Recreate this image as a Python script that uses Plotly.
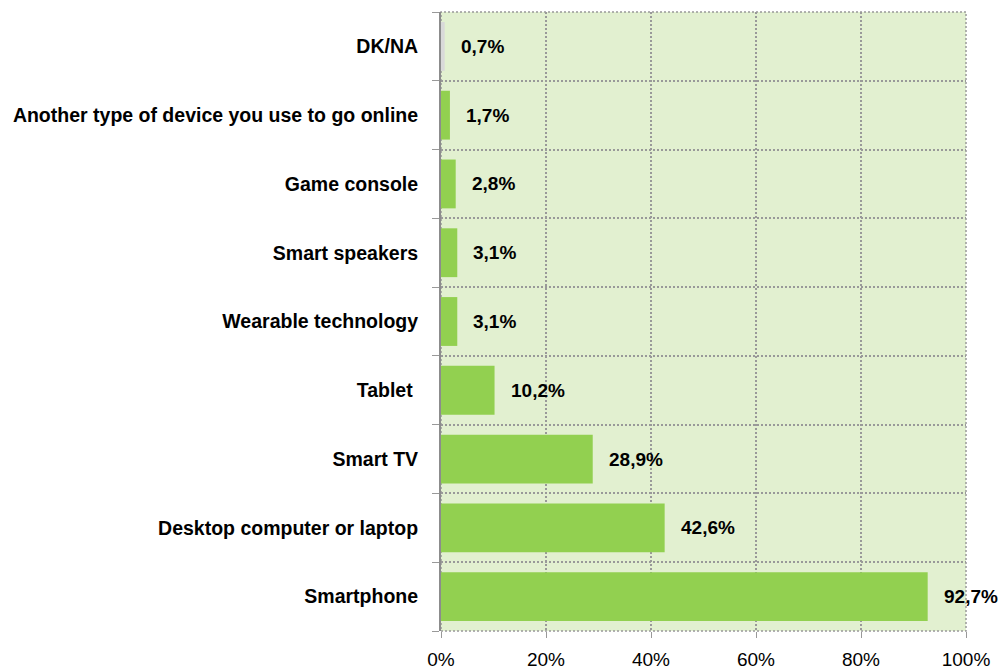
import plotly.graph_objects as go

categories = ["Smartphone", "Desktop computer or laptop", "Smart TV", "Tablet ",
              "Wearable technology", "Smart speakers", "Game console",
              "Another type of device you use to go online", "DK/NA"]
values = [92.7, 42.6, 28.9, 10.2, 3.1, 3.1, 2.8, 1.7, 0.7]
labels = ["92,7%", "42,6%", "28,9%", "10,2%", "3,1%", "3,1%", "2,8%", "1,7%", "0,7%"]
bar_colors = ["#92D050"] * 8 + ["#D9D9D9"]
x_tickvals = [0, 20, 40, 60, 80, 100]
x_ticktext = ["0%", "20%", "40%", "60%", "80%", "100%"]

FONT = "Liberation Sans Narrow, Arial Narrow, Liberation Sans, Arial, sans-serif"
GRID = "#999999"
DASH = "2px,2px"

fig = go.Figure()
fig.add_trace(go.Bar(
    y=categories, x=values, orientation="h",
    marker=dict(color=bar_colors, line=dict(width=0)),
    width=0.71, hoverinfo="skip",
))
for c, v, t in zip(categories, values, labels):
    fig.add_annotation(x=v, y=c, text="<b>%s</b>" % t, showarrow=False,
                       xanchor="left", xshift=14,
                       font=dict(family=FONT, size=19, color="black"))

fig.update_layout(
    width=1000, height=670,
    margin=dict(l=441, r=34, t=12, b=39),
    paper_bgcolor="white", plot_bgcolor="#E2F0D0",
    showlegend=False,
    font=dict(family=FONT, size=19, color="black"),
)
fig.update_xaxes(
    range=[0, 100], tickvals=x_tickvals, ticktext=x_ticktext,
    showgrid=True, gridcolor=GRID, griddash=DASH, gridwidth=1.5,
    ticks="outside", ticklen=6, tickcolor=GRID,
    zeroline=False, showline=False, automargin=False,
    tickfont=dict(family=FONT, size=19, color="black"),
    ticklabelstandoff=5,
)
fig.update_yaxes(
    type="category", categoryorder="array", categoryarray=categories,
    tickson="boundaries", showgrid=True, gridcolor=GRID, griddash=DASH, gridwidth=1.5,
    ticks="outside", ticklen=7, tickcolor=GRID, automargin=False,
    showline=True, linecolor="#8C8C8C", linewidth=2,
    tickfont=dict(family=FONT, size=19.5, color="black", weight="bold"),
    ticklabelstandoff=17,
)
fig.add_shape(type="rect", xref="paper", yref="paper", x0=0, x1=1, y0=0, y1=1,
              line=dict(color=GRID, width=1.5, dash=DASH), layer="below")
fig.write_html("out.html", config={"displayModeBar": False},
               post_script="document.body.style.margin='0';document.body.style.overflow='hidden';")
